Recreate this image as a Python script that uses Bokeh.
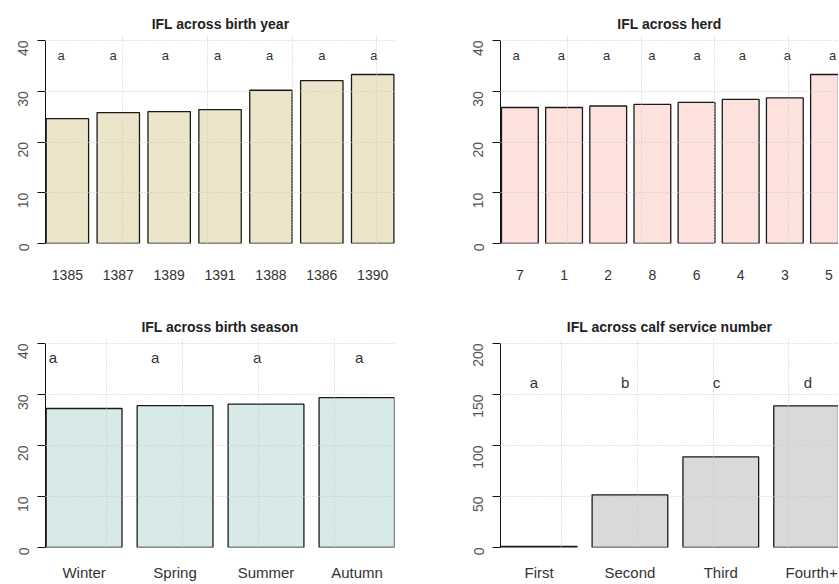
import numpy as np
from bokeh.plotting import figure
from bokeh.layouts import column, row
from bokeh.models import FixedTicker, Range1d
from bokeh.core.properties import value
from bokeh.embed import file_html
from bokeh.resources import INLINE

# ---------------- data ----------------
year_cats = ["1385", "1387", "1389", "1391", "1388", "1386", "1390"]
year_vals = [24.6, 25.8, 26.0, 26.4, 30.2, 32.1, 33.3]
year_letters = ["a", "a", "a", "a", "a", "a", "a"]

herd_cats = ["7", "1", "2", "8", "6", "4", "3", "5"]
herd_vals = [26.8, 26.8, 27.1, 27.4, 27.8, 28.4, 28.7, 33.3]
herd_letters = ["a", "a", "a", "a", "a", "a", "a", "a"]

season_cats = ["Winter", "Spring", "Summer", "Autumn"]
season_vals = [27.25, 27.8, 28.1, 29.4]
season_letters = ["a", "a", "a", "a"]

service_cats = ["First", "Second", "Third", "Fourth+"]
service_vals = [1.0, 51.6, 88.9, 138.9]
service_letters = ["a", "b", "c", "d"]

yticks_40 = [0, 10, 20, 30, 40]
yticks_200 = [0, 50, 100, 150, 200]

FONT = "Liberation Sans"


def bar_centers(n):
    # R barplot layout: width 1, space 0.2
    return [round(0.7 + 1.2 * i, 4) for i in range(n)]


def panel(title, cats, vals, letters, letter_x, letter_y, yticks, xgrid, fill,
          w, h, bl, br, bt, bb, xr, yr, title_size, xlab_size, let_size, xstand, tstand):
    centers = bar_centers(len(cats))
    p = figure(width=w, height=h, output_backend="svg", toolbar_location=None,
               x_range=Range1d(*xr), y_range=Range1d(*yr),
               min_border_left=bl, min_border_right=br,
               min_border_top=bt, min_border_bottom=bb)
    p.outline_line_color = None
    p.background_fill_color = "white"
    p.border_fill_color = "white"

    p.vbar(x=centers, top=vals, bottom=0, width=1.0, fill_color=fill,
           line_color="#1a1a1a", line_width=1.3)
    p.text(x=list(letter_x), y=[letter_y] * len(letters), text=letters,
           text_align="center", text_baseline="middle",
           text_font=value(FONT), text_font_size=let_size, text_color="#333333")

    # grid (drawn over bars, like R's grid())
    p.xgrid.ticker = FixedTicker(ticks=xgrid)
    p.ygrid.ticker = FixedTicker(ticks=yticks)
    for g in (p.xgrid, p.ygrid):
        g.grid_line_color = "#c8c8c8"
        g.grid_line_dash = "1 2"
        g.grid_line_width = 1
        g.level = "annotation"

    # y axis
    ya = p.yaxis[0]
    ya.ticker = FixedTicker(ticks=yticks)
    ya.bounds = (yticks[0], yticks[-1])
    ya.major_label_orientation = np.pi / 2
    ya.major_tick_out = 8
    ya.major_tick_in = 0
    ya.minor_tick_line_color = None
    ya.axis_line_color = "#111111"
    ya.major_tick_line_color = "#111111"
    ya.major_label_text_font = FONT
    ya.major_label_text_font_size = "14px"
    ya.major_label_text_color = "#555555"
    ya.major_label_standoff = 14

    # x axis: category names under bars
    xa = p.xaxis[0]
    xa.ticker = FixedTicker(ticks=centers)
    xa.major_label_overrides = {c: lab for c, lab in zip(centers, cats)}
    xa.axis_line_color = None
    xa.major_tick_line_color = None
    xa.minor_tick_line_color = None
    xa.major_tick_out = 0
    xa.major_tick_in = 0
    xa.major_label_standoff = xstand
    xa.major_label_text_font = FONT
    xa.major_label_text_font_size = xlab_size
    xa.major_label_text_color = "#333333"

    p.title.text = title
    p.title.align = "center"
    p.title.text_font = FONT
    p.title.text_font_size = title_size
    p.title.text_font_style = "bold"
    p.title.text_color = "#222222"
    p.title.standoff = tstand
    return p


p1 = panel("IFL across birth year", year_cats, year_vals, year_letters,
           np.linspace(0.55, 7.93, len(year_cats)), 37.1, yticks_40, [2, 4, 6, 8],
           "#ECE5C9", 420, 292, 45, 25, 35, 49, (0.1835, 8.438), (0, 40.99),
           "14px", "14px", "13px", 26, 8)
p2 = panel("IFL across herd", herd_cats, herd_vals, herd_letters,
           np.linspace(0.6, 9.2, len(herd_cats)), 37.1, yticks_40, [2, 4, 6, 8],
           "#FDE1DC", 418, 292, 80, 0, 35, 49, (0.173, 9.358), (0, 40.99),
           "14px", "14px", "13px", 26, 8)
p3 = panel("IFL across birth season", season_cats, season_vals, season_letters,
           np.linspace(0.29, 4.33, len(season_cats)), 37.3, yticks_40, [1, 2, 3, 4],
           "#D8EAE8", 420, 291, 45, 26, 46, 36, (0.191, 4.795), (0, 40.98),
           "14px", "15px", "15px", 16, 7)
p4 = panel("IFL across calf service number", service_cats, service_vals, service_letters,
           np.linspace(0.63, 4.25, len(service_cats)), 161.8, yticks_200, [1, 2, 3, 4],
           "#D9D9D9", 418, 291, 80, 0, 46, 36, (0.19, 4.655), (0, 204.9),
           "14px", "15px", "15px", 16, 7)

layout = column(row(p1, p2), row(p3, p4))
open("out.html", "w").write(file_html(layout, INLINE))
